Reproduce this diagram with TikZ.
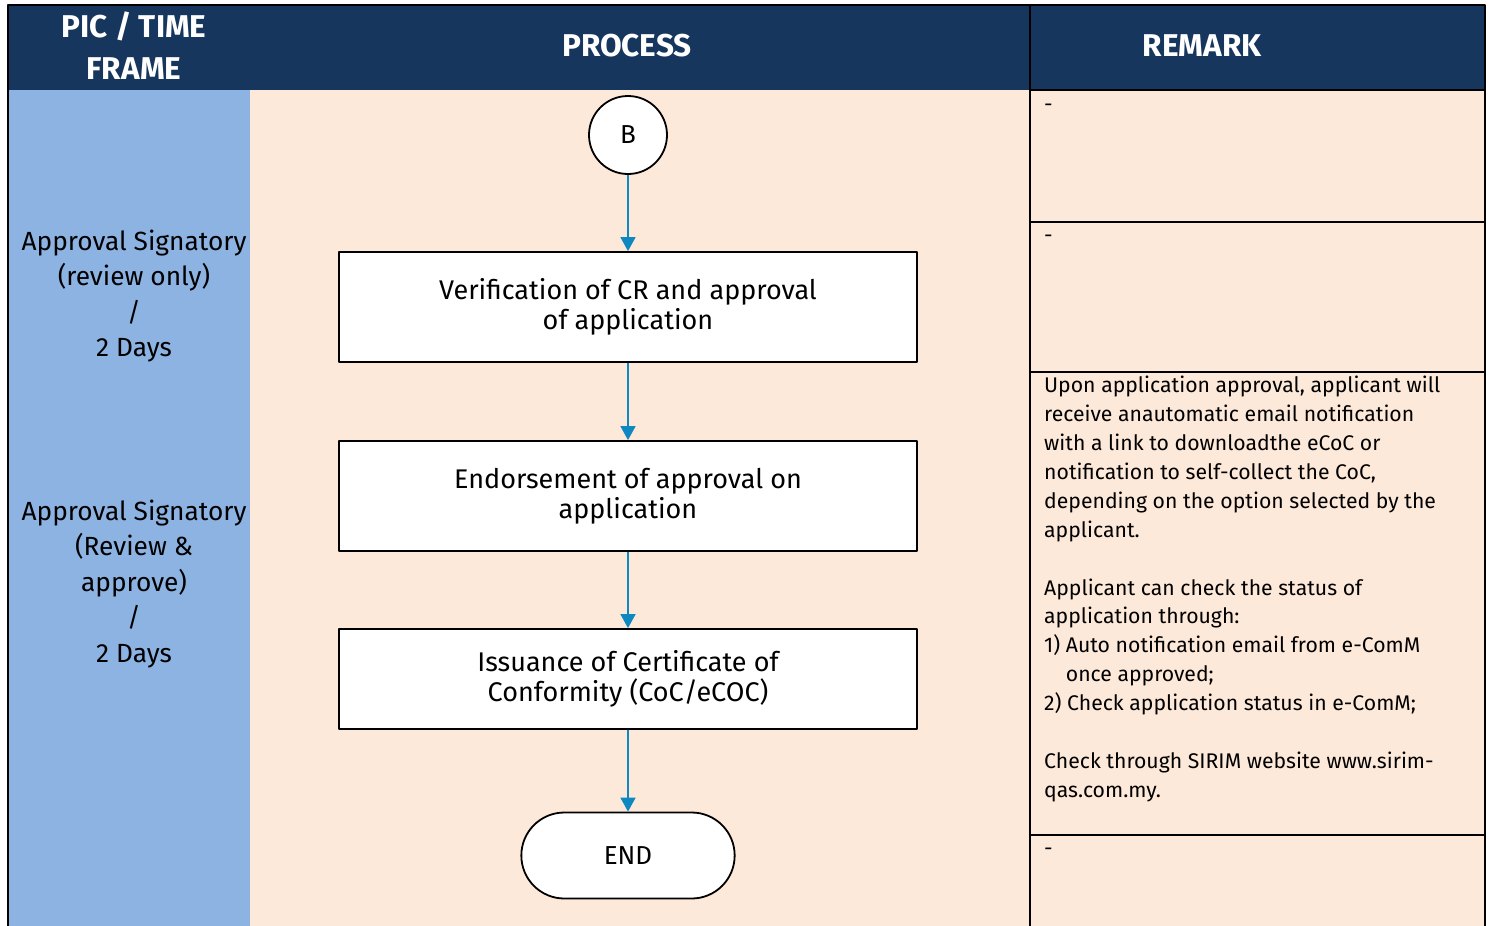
\documentclass[tikz,border=0pt]{standalone}
\usepackage{fontspec}
\setmainfont{Fira Sans}
\usetikzlibrary{arrows.meta,shapes.misc}
\definecolor{navy}{RGB}{23,54,93}
\definecolor{picblue}{RGB}{141,179,226}
\definecolor{peach}{RGB}{253,233,217}
\definecolor{flowblue}{RGB}{14,136,192}
\begin{document}
\begin{tikzpicture}[x=1pt,y=-1pt,>={Triangle[width=15pt,length=14pt]},line join=round,
	headtext/.style={text=white,align=center,font=\fontsize{31.5}{42}\selectfont\bfseries},
	pictext/.style={align=center,font=\fontsize{26.3}{35.5}\selectfont},
	procbox/.style={draw,line width=1.8pt,fill=white,minimum width=578pt,minimum height=110pt,align=center,font=\fontsize{27}{30}\selectfont},
	connect/.style={draw,circle,line width=1.8pt,fill=white,minimum size=78pt,font=\fontsize{26}{30}\selectfont},
	terminal/.style={draw,rounded rectangle,line width=1.8pt,fill=white,minimum width=220pt,minimum height=86pt,font=\fontsize{26}{30}\selectfont},
	flow/.style={->,draw=flowblue,fill=flowblue,line width=1.6pt},
	remtext/.style={align=left,inner sep=0pt,font=\fontsize{21.2}{28.9}\selectfont}]
	\def\xl{8} \def\xa{250} \def\xb{1030} \def\xr{1485} \def\yt{5} \def\yh{90} \def\yb{926}
	\useasboundingbox (0,0) rectangle (1491,926);
	\fill[picblue] (\xl,\yh) rectangle (\xa,\yb);
	\fill[peach] (\xa,\yh) rectangle (\xr,\yb);
	\fill[navy] (\xl,\yt) rectangle (\xr,\yh);
	\draw[line width=2.5pt] (\xl,\yb)--(\xl,\yt)--(\xr,\yt)--(\xr,\yb);
	\draw[line width=2.5pt] (\xb,\yt)--(\xb,\yb);
	\foreach \y in {\yh,222,372,835}
		\draw[line width=2pt] (\xb,\y)--(\xr,\y);
	\node[headtext] (hpic) at (134,46) {PIC / TIME\\FRAME};
	\node[headtext] (hproc) at (627,46) {PROCESS};
	\node[headtext] (hrem) at (1202,46) {REMARK};
	\node[pictext] (sig1) at (134,296) {Approval Signatory\\(review only)\\/\\2 Days};
	\node[pictext] (sig2) at (134,584) {Approval Signatory\\(Review \&\\approve)\\/\\2 Days};
	\node[connect] (b) at (628,135) {B};
	\node[procbox] (verify) at (628,307) {Verification of CR and approval\\of application};
	\node[procbox] (endorse) at (628,496) {Endorsement of approval on\\application};
	\node[procbox,minimum height=100pt] (issue) at (628,679) {Issuance of Certificate of\\Conformity (CoC/eCOC)};
	\node[terminal] (end) at (628,855.5) {END};
	\draw[flow] (b)--(verify);
	\draw[flow] (verify)--(endorse);
	\draw[flow] (endorse)--(issue);
	\draw[flow] (issue)--(end);
	\node[remtext,anchor=north west] (dash1) at (1044,104) {-};
	\node[remtext,anchor=north west] (dash2) at (1044,235) {-};
	\node[remtext,anchor=north west] (dash4) at (1044,848) {-};
	\node[remtext,anchor=north west] (rem3) at (1044,376) {Upon application approval, applicant will\\receive anautomatic email notification\\with a link to downloadthe eCoC or\\notification to self-collect the CoC,\\depending on the option selected by the\\applicant.\\[28.9pt]Applicant can check the status of\\application through:\\1)\ Auto notification email from e-ComM\\\phantom{1)\ }once approved;\\2)\ Check application status in e-ComM;\\[28.9pt]Check through SIRIM website www.sirim-\\qas.com.my.};
\end{tikzpicture}
\end{document}
